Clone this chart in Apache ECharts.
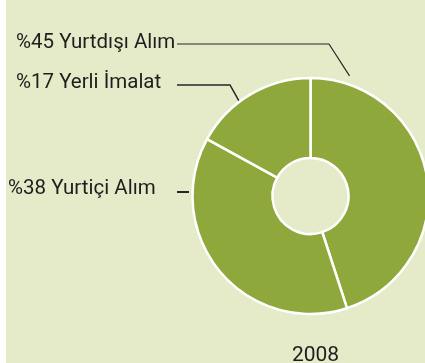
<!DOCTYPE html>
<html>
<head>
<meta charset="utf-8">
<script src="https://cdn.jsdelivr.net/npm/echarts@6/dist/echarts.min.js"></script>
<style>
  html, body { margin: 0; padding: 0; background: #ffffff; }
  #chart { position: absolute; left: 6px; top: 0; width: 419px; height: 363px; }
</style>
</head>
<body>
<div id="chart"></div>
<script>
// Supply breakdown for 2008 (percent)
const categories = ['Yurtdışı Alım', 'Yurtiçi Alım', 'Yerli İmalat'];
const shares = [45, 38, 17];
const yearLabel = '2008';

const FONT = 'Roboto';
const PIE_CX = 304.5, PIE_CY = 196, R_IN = 38, R_OUT = 118;

// label anchor (left edge / vertical middle), elbow x, and leader tip (angle clockwise from 12 o'clock, radius factor)
const labelPlacement = [
  { x: 10, y: 43,  lineY: 44,  lineX: 171, elbowX: 323, tipAngle: 18,  tipR: 1.07, lineW: 1.2 },
  { x: 2,  y: 189, lineY: 192, lineX: 171, elbowX: 183, tipAngle: null, lineW: 2 },
  { x: 10, y: 83,  lineY: 85,  lineX: 171, elbowX: 224, tipAngle: 323, tipR: 1.0, lineW: 1.5 }
];

function polar(angleDeg, r) {
  const a = angleDeg * Math.PI / 180;
  return [PIE_CX + Math.sin(a) * r, PIE_CY - Math.cos(a) * r];
}

const chart = echarts.init(document.getElementById('chart'), null, { renderer: 'canvas' });

chart.setOption({
  backgroundColor: '#e5ebc8',
  animation: false,
  title: {
    text: yearLabel,
    left: PIE_CX,
    textAlign: 'center',
    top: 340,
    textStyle: { fontFamily: FONT, fontSize: 21, fontWeight: 'normal', color: '#1e1e1e' }
  },
  series: [{
    type: 'pie',
    center: [PIE_CX, PIE_CY],
    radius: [R_IN, R_OUT],
    startAngle: 90,
    clockwise: true,
    silent: true,
    avoidLabelOverlap: false,
    itemStyle: { color: '#8fa83c', borderColor: '#ffffff', borderWidth: 2.5 },
    label: {
      show: true,
      formatter: p => '%' + p.value + ' ' + p.name,
      fontFamily: FONT,
      fontSize: 20.5,
      color: '#1e1e1e',
      overflow: 'none'
    },
    labelLine: { show: true, lineStyle: { color: '#262626', width: 1.4 } },
    labelLayout: function (params) {
      const pl = labelPlacement[params.dataIndex];
      let pts;
      if (pl.tipAngle === null) {
        pts = [[pl.elbowX, pl.lineY], [pl.elbowX, pl.lineY], [pl.lineX, pl.lineY]];
      } else {
        pts = [polar(pl.tipAngle, R_OUT * pl.tipR), [pl.elbowX, pl.lineY], [pl.lineX, pl.lineY]];
      }
      return {
        x: pl.x, y: pl.y, align: 'left', verticalAlign: 'middle',
        hideOverlap: false,
        labelLinePoints: pts
      };
    },
    data: categories.map((name, i) => ({
      name: name,
      value: shares[i],
      labelLine: { lineStyle: { width: labelPlacement[i].lineW } }
    }))
  }]
});
</script>
</body>
</html>
